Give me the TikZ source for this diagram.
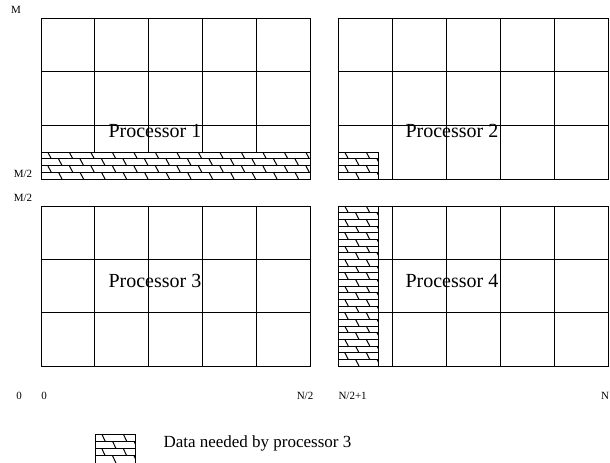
\documentclass[tikz,border=0pt]{standalone}
\usepackage{fontspec}
\setmainfont{Liberation Serif}
\tikzset{axislabel/.style={font=\fontsize{5.5}{6}\selectfont, inner sep=0pt},
	proclabel/.style={font=\fontsize{10}{12}\selectfont, inner sep=0pt, anchor=west},
	legendlabel/.style={font=\fontsize{8.5}{10}\selectfont, inner sep=0pt, anchor=west}}
% brick hatching: x0 y0 x1 y1 rows
\newcommand{\bricks}[5]{%
	\begin{scope}
		\clip (#1,#2) rectangle (#3,#4);
		\pgfmathsetmacro{\rowh}{(#4-#2)/#5}
		\foreach \r in {1,...,#5}{
			\pgfmathsetmacro{\ya}{#2+(\r-1)*\rowh}
			\pgfmathsetmacro{\xs}{#1-4+mod(\r,2)*10.75}
			\draw (#1,\ya)--(#3,\ya);
			\foreach \k in {0,...,13}{
				\draw (\xs+\k*21.5,\ya)--++(3.5,\rowh);
			}
		}
	\end{scope}
	\draw (#1,#2) rectangle (#3,#4);
}
\begin{document}
\begin{tikzpicture}[x=0.5pt, y=-0.5pt, line width=0.5pt]
\useasboundingbox (0,0) rectangle (610,462);
% processor 1
\draw (41,18) rectangle (310,179);
\foreach \x in {94.8,148.6,202.4,256.2}{
	\draw (\x,18)--(\x,152);
}
\foreach \y in {71.7,125.3}{
	\draw (41,\y)--(310,\y);
}
\bricks{41}{152}{310}{179}{4}
% processor 2
\draw (338,18) rectangle (608,179);
\foreach \x in {392,446,500,554}{
	\draw (\x,18)--(\x,179);
}
\foreach \y in {71.7,125.3}{
	\draw (338,\y)--(608,\y);
}
\bricks{338}{152}{378}{179}{4}
% processor 3
\draw (41,206) rectangle (310,366);
\foreach \x in {94.8,148.6,202.4,256.2}{
	\draw (\x,206)--(\x,366);
}
\foreach \y in {259.3,312.7}{
	\draw (41,\y)--(310,\y);
}
% processor 4
\draw (338,206) rectangle (608,366);
\foreach \x in {392,446,500,554}{
	\draw (\x,206)--(\x,366);
}
\foreach \y in {259.3,312.7}{
	\draw (378,\y)--(608,\y);
}
\bricks{338}{206}{378}{366}{24}
% labels
\node[proclabel] (p1) at (108,131) {Processor 1};
\node[proclabel] (p2) at (405,131) {Processor 2};
\node[proclabel] (p3) at (108,281) {Processor 3};
\node[proclabel] (p4) at (405,281) {Processor 4};
\node[axislabel] (mtop) at (16,10) {M};
\node[axislabel] (mhalfa) at (23,174) {M/2};
\node[axislabel] (mhalfb) at (23,198) {M/2};
\node[axislabel] (zeroa) at (19,396) {0};
\node[axislabel] (zerob) at (44,396) {0};
\node[axislabel] (nhalf) at (305,396) {N/2};
\node[axislabel, anchor=west] (nhalfone) at (338,396) {N/2+1};
\node[axislabel, anchor=east] (nfull) at (609.5,396) {N};
% legend
\bricks{95}{434}{135}{463}{4}
\node[legendlabel] (legend) at (163,443) {Data needed by processor 3};
\end{tikzpicture}
\end{document}
